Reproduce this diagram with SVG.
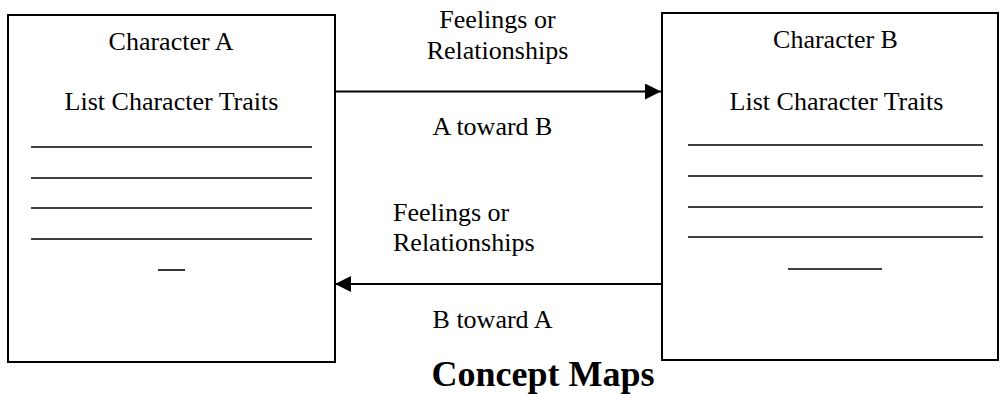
<svg xmlns="http://www.w3.org/2000/svg" width="1001" height="394" viewBox="0 0 1001 394">
<defs>
<style>
.box{fill:#fff;stroke:#000;stroke-width:2}
.rule{stroke:#000;stroke-width:1.6}
.t{font-family:"Liberation Serif","Times New Roman",serif;font-size:26px;fill:#000}
.c{text-anchor:middle}
.title{font-family:"Liberation Serif","Times New Roman",serif;font-size:36px;font-weight:bold;fill:#000;text-anchor:middle}
.conn{stroke:#000;stroke-width:2;fill:none}
</style>
<marker id="ah" markerWidth="16" markerHeight="16" refX="16" refY="8" orient="auto" markerUnits="userSpaceOnUse">
<path d="M0,0 L16,8 L0,16 Z" fill="#000"/>
</marker>
</defs>
<rect width="1001" height="394" fill="#fff"/>
<g id="nodeA">
<rect class="box" x="8" y="15" width="327" height="347"/>
<text class="t c" x="171" y="50">Character A</text>
<text class="t c" x="171.5" y="110">List Character Traits</text>
<line class="rule" x1="31" y1="147" x2="312" y2="147"/>
<line class="rule" x1="31" y1="178" x2="312" y2="178"/>
<line class="rule" x1="31" y1="208" x2="312" y2="208"/>
<line class="rule" x1="31" y1="239" x2="312" y2="239"/>
<line class="rule" x1="158" y1="270" x2="185" y2="270"/>
</g>
<g id="nodeB">
<rect class="box" x="662" y="13" width="336" height="347"/>
<text class="t c" x="835.5" y="48">Character B</text>
<text class="t c" x="836.5" y="110">List Character Traits</text>
<line class="rule" x1="688" y1="145" x2="983" y2="145"/>
<line class="rule" x1="688" y1="176" x2="983" y2="176"/>
<line class="rule" x1="688" y1="207" x2="983" y2="207"/>
<line class="rule" x1="688" y1="237" x2="983" y2="237"/>
<line class="rule" x1="788" y1="269" x2="882" y2="269"/>
</g>
<g id="connectors">
<line class="conn" x1="335" y1="91.5" x2="661" y2="91.5" marker-end="url(#ah)"/>
<line class="conn" x1="661" y1="284" x2="335" y2="284" marker-end="url(#ah)"/>
</g>
<g id="labels">
<text class="t c" x="497.5" y="28">Feelings or</text>
<text class="t c" x="497.5" y="59">Relationships</text>
<text class="t c" x="492.5" y="135">A toward B</text>
<text class="t" x="393" y="221">Feelings or</text>
<text class="t" x="393" y="251">Relationships</text>
<text class="t c" x="492.5" y="328">B toward A</text>
</g>
<text class="title" x="543" y="386">Concept Maps</text>
</svg>
